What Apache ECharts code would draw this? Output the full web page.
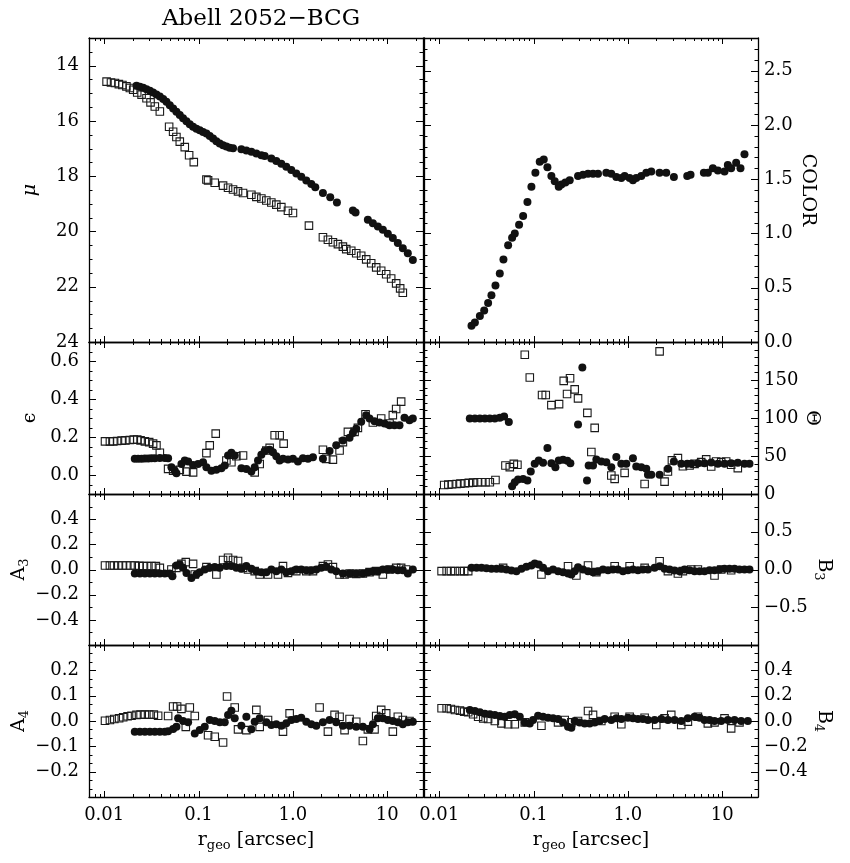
<!DOCTYPE html>
<html><head><meta charset="utf-8">
<script src="https://cdn.jsdelivr.net/npm/echarts@6/dist/echarts.min.js"></script>
<style>html,body{margin:0;padding:0;background:#fff}#c{width:850px;height:863px}</style>
</head><body><div id="c"></div><script>
// ---------- data: [r (arcsec), value] ----------
const muSq=[[0.0106,14.58],[0.0118,14.61],[0.0130,14.63],[0.0143,14.67],[0.0156,14.70],[0.0172,14.75],[0.0187,14.81],[0.0203,14.87],[0.0224,14.97],[0.0249,15.05],[0.0281,15.18],[0.0310,15.33],[0.0344,15.48],[0.0389,15.66],[0.0488,16.21],[0.0538,16.39],[0.0583,16.58],[0.0633,16.75],[0.0715,16.95],[0.0795,17.24],[0.0891,17.49],[0.1213,18.12],[0.1263,18.15],[0.1486,18.24],[0.1821,18.34],[0.2057,18.42],[0.2323,18.48],[0.2624,18.55],[0.2965,18.61],[0.3633,18.67],[0.4104,18.75],[0.4637,18.81],[0.5236,18.88],[0.5916,18.95],[0.6683,19.03],[0.7551,19.12],[0.8882,19.25],[1.003,19.33],[1.482,19.79],[2.085,20.21],[2.356,20.30],[2.661,20.39],[3.006,20.46],[3.396,20.55],[3.684,20.64],[4.162,20.70],[4.701,20.79],[5.309,20.88],[5.998,21.01],[6.775,21.15],[7.654,21.30],[8.646,21.42],[9.768,21.55],[11.03,21.70],[12.46,21.88],[13.74,22.06],[14.66,22.22]];
const muDot=[[0.0220,14.73],[0.0239,14.76],[0.0259,14.80],[0.0281,14.85],[0.0305,14.91],[0.0330,14.97],[0.0358,15.04],[0.0389,15.12],[0.0422,15.21],[0.0457,15.31],[0.0496,15.43],[0.0538,15.55],[0.0583,15.67],[0.0633,15.79],[0.0686,15.90],[0.0745,16.01],[0.0808,16.12],[0.0876,16.21],[0.0950,16.28],[0.1030,16.34],[0.1118,16.40],[0.1213,16.46],[0.1315,16.55],[0.1427,16.64],[0.1547,16.74],[0.1679,16.82],[0.1821,16.88],[0.1975,16.93],[0.2142,16.97],[0.2323,16.99],[0.2847,17.03],[0.3216,17.07],[0.3633,17.12],[0.4104,17.18],[0.4637,17.24],[0.5030,17.27],[0.5916,17.36],[0.6683,17.45],[0.7551,17.55],[0.8528,17.66],[0.9634,17.78],[1.088,17.90],[1.229,18.02],[1.389,18.16],[1.570,18.28],[1.730,18.40],[2.085,18.61],[2.493,18.76],[2.934,18.95],[4.334,19.24],[4.624,19.31],[6.246,19.58],[7.057,19.70],[7.971,19.82],[9.005,19.94],[10.17,20.08],[11.49,20.24],[12.98,20.42],[14.66,20.61],[16.56,20.79],[18.72,21.03]];
const colorDot=[[0.0220,0.15],[0.0239,0.18],[0.0270,0.24],[0.0300,0.29],[0.0330,0.36],[0.0358,0.43],[0.0395,0.52],[0.0439,0.63],[0.0480,0.76],[0.0538,0.89],[0.0593,0.96],[0.0633,1.00],[0.0703,1.08],[0.0776,1.16],[0.0862,1.29],[0.0950,1.43],[0.1047,1.56],[0.1164,1.66],[0.1284,1.68],[0.1404,1.61],[0.1547,1.53],[0.1679,1.48],[0.1851,1.43],[0.1975,1.45],[0.2177,1.47],[0.2420,1.49],[0.2965,1.53],[0.3349,1.54],[0.3784,1.55],[0.4275,1.55],[0.4829,1.55],[0.5916,1.56],[0.6683,1.55],[0.7551,1.52],[0.8528,1.51],[0.9250,1.53],[1.045,1.51],[1.133,1.49],[1.229,1.51],[1.389,1.53],[1.570,1.56],[1.773,1.57],[2.172,1.56],[2.555,1.56],[3.080,1.52],[4.264,1.53],[4.624,1.54],[6.401,1.56],[7.057,1.56],[7.971,1.60],[9.005,1.58],[10.60,1.57],[11.49,1.63],[12.46,1.60],[14.08,1.65],[15.65,1.60],[17.25,1.73]];
const epsSq=[[0.0102,0.177],[0.0115,0.177],[0.0125,0.177],[0.0137,0.179],[0.0153,0.181],[0.0168,0.182],[0.0187,0.184],[0.0206,0.186],[0.0224,0.186],[0.0243,0.182],[0.0270,0.177],[0.0300,0.173],[0.0330,0.165],[0.0358,0.156],[0.0389,0.117],[0.0476,0.032],[0.0538,0.023],[0.0633,0.027],[0.0745,0.018],[0.0876,0.014],[0.1213,0.115],[0.1315,0.156],[0.1522,0.218],[0.1975,0.076],[0.2231,0.067],[0.2520,0.099],[0.2965,0.103],[0.3941,0.014],[0.4452,0.058],[0.5236,0.129],[0.5681,0.143],[0.6418,0.209],[0.7250,0.209],[0.7993,0.165],[2.085,0.133],[2.262,0.085],[2.661,0.081],[3.131,0.129],[3.396,0.173],[3.837,0.227],[4.514,0.227],[4.896,0.248],[5.901,0.320],[7.057,0.276],[8.646,0.297],[10.60,0.271],[11.49,0.315],[12.46,0.347],[14.08,0.386]];
const epsDot=[[0.0211,0.085],[0.0229,0.085],[0.0249,0.085],[0.0270,0.087],[0.0293,0.087],[0.0317,0.088],[0.0344,0.088],[0.0389,0.090],[0.0439,0.090],[0.0476,0.088],[0.0516,0.041],[0.0560,0.023],[0.0583,0.009],[0.0659,0.058],[0.0715,0.076],[0.0776,0.071],[0.0876,0.053],[0.0989,0.058],[0.1118,0.067],[0.1213,0.041],[0.1370,0.023],[0.1547,0.028],[0.1748,0.035],[0.1897,0.050],[0.2057,0.103],[0.2231,0.117],[0.2420,0.103],[0.2847,0.035],[0.3216,0.032],[0.3633,0.018],[0.3941,0.041],[0.4275,0.076],[0.4637,0.106],[0.5030,0.126],[0.5681,0.133],[0.6162,0.120],[0.6683,0.099],[0.7250,0.076],[0.7863,0.085],[0.8882,0.081],[1.003,0.085],[1.133,0.071],[1.280,0.088],[1.447,0.085],[1.635,0.094],[2.085,0.085],[2.453,0.126],[2.886,0.156],[3.396,0.182],[3.996,0.196],[4.334,0.221],[4.701,0.244],[5.309,0.280],[5.998,0.315],[6.506,0.297],[7.349,0.283],[8.302,0.276],[9.378,0.271],[10.60,0.262],[11.97,0.262],[13.52,0.262],[15.27,0.301],[17.25,0.288],[18.72,0.297]];
const thetaSq=[[0.0113,11.9],[0.0125,12.4],[0.0137,12.8],[0.0153,13.2],[0.0168,13.7],[0.0187,14.1],[0.0206,14.6],[0.0229,15.0],[0.0255,15.5],[0.0281,15.5],[0.0310,15.5],[0.0344,15.5],[0.0395,18.5],[0.0504,37.5],[0.0560,35.3],[0.0618,39.7],[0.0675,38.4],[0.0808,183.2],[0.0913,153.2],[0.1232,130.2],[0.1348,130.2],[0.1547,117.0],[0.1866,118.3],[0.2091,148.8],[0.2268,131.6],[0.2439,152.3],[0.2733,137.7],[0.2965,125.8],[0.3723,106.8],[0.4104,55.2],[0.4452,87.0],[0.6683,24.3],[0.7250,19.9],[0.9250,27.8],[1.507,13.2],[2.172,187.6],[2.453,16.3],[2.661,29.6],[2.934,44.2],[3.396,47.2],[3.837,36.6],[4.514,37.5],[5.099,39.7],[5.998,41.9],[6.775,45.5],[7.654,36.2],[8.646,42.8],[9.768,41.9],[11.03,42.8],[12.46,38.4],[14.66,34.0]];
const thetaDot=[[0.0211,99.3],[0.0239,99.3],[0.0270,99.3],[0.0305,99.3],[0.0344,99.3],[0.0389,99.3],[0.0439,100.2],[0.0488,102.0],[0.0547,94.9],[0.0593,10.2],[0.0633,15.5],[0.0686,19.0],[0.0776,19.9],[0.0862,17.7],[0.0935,29.6],[0.1030,39.7],[0.1136,44.2],[0.1263,41.1],[0.1404,60.5],[0.1547,40.6],[0.1706,35.3],[0.1851,44.2],[0.2057,45.0],[0.2286,43.7],[0.2459,40.6],[0.2965,91.4],[0.3295,166.4],[0.3692,17.7],[0.3846,37.5],[0.4275,37.5],[0.4637,45.5],[0.5236,42.8],[0.5916,41.9],[0.6683,35.3],[0.7551,48.6],[0.8528,39.7],[0.9634,39.7],[1.133,47.2],[1.229,36.2],[1.389,35.3],[1.570,33.1],[1.635,25.2],[1.773,25.2],[2.172,25.2],[2.661,33.1],[3.080,42.8],[3.684,39.7],[4.264,39.7],[4.701,39.7],[5.530,40.6],[6.506,40.6],[7.654,41.5],[9.005,39.7],[10.60,39.7],[12.46,40.6],[14.66,41.1],[17.25,39.7],[19.49,39.7]];
const a3Sq=[[0.0102,0.032],[0.0115,0.032],[0.0127,0.032],[0.0141,0.032],[0.0156,0.032],[0.0172,0.032],[0.0190,0.032],[0.0211,0.032],[0.0235,0.029],[0.0259,0.027],[0.0285,0.027],[0.0317,0.027],[0.0353,0.027],[0.0389,0.013],[0.0516,0.000],[0.0583,0.013],[0.0659,0.045],[0.0733,0.059],[0.0876,0.045],[0.0913,-0.040],[0.1213,0.019],[0.1547,-0.040],[0.1821,0.075],[0.2057,0.093],[0.2323,0.075],[0.2624,0.067],[0.2965,0.013],[0.3349,0.000],[0.3941,-0.013],[0.4452,-0.040],[0.5455,-0.040],[0.6961,-0.040],[0.7863,0.027],[0.8882,-0.027],[1.088,-0.013],[1.389,-0.013],[1.635,-0.013],[2.085,0.027],[2.356,0.040],[2.661,0.019],[3.131,-0.040],[3.537,-0.040],[3.996,-0.032],[4.701,-0.035],[5.530,-0.032],[6.506,-0.021],[7.654,-0.013],[9.005,-0.040],[10.60,0.000],[12.46,0.013],[14.08,0.013],[15.90,0.000]];
const a3Dot=[[0.0211,-0.032],[0.0239,-0.032],[0.0270,-0.032],[0.0305,-0.032],[0.0344,-0.032],[0.0389,-0.032],[0.0439,-0.032],[0.0496,-0.032],[0.0529,-0.053],[0.0583,0.032],[0.0633,0.040],[0.0686,0.013],[0.0745,-0.027],[0.0841,-0.067],[0.0950,-0.040],[0.1030,-0.021],[0.1164,0.000],[0.1315,0.013],[0.1486,0.019],[0.1679,0.013],[0.1975,0.027],[0.2231,0.027],[0.2520,0.013],[0.2847,0.005],[0.3216,0.027],[0.3633,0.005],[0.4104,-0.013],[0.4637,-0.021],[0.5236,-0.021],[0.5916,0.000],[0.6683,-0.013],[0.7551,0.000],[0.8528,-0.021],[0.9634,-0.013],[1.088,0.000],[1.229,0.000],[1.389,-0.005],[1.570,-0.005],[1.773,0.000],[2.002,0.013],[2.262,0.021],[2.555,0.000],[2.886,-0.013],[3.396,-0.032],[3.996,-0.032],[4.701,-0.032],[5.530,-0.032],[6.246,-0.021],[7.057,-0.013],[7.971,-0.013],[9.005,0.000],[10.17,0.000],[11.49,0.000],[12.98,-0.005],[14.66,-0.005],[16.56,-0.032],[18.72,0.000]];
const b3Sq=[[0.0106,-0.022],[0.0120,-0.022],[0.0133,-0.022],[0.0147,-0.022],[0.0166,-0.022],[0.0184,-0.022],[0.0203,-0.022],[0.0476,0.022],[0.1213,-0.066],[0.2323,0.044],[0.2847,-0.079],[0.3784,0.053],[0.4637,-0.035],[0.7250,0.044],[1.045,0.044],[1.507,0.022],[2.172,0.110],[2.661,-0.022],[3.396,-0.053],[3.837,-0.022],[4.701,0.000],[5.530,0.000],[8.302,-0.079],[9.768,0.000],[12.46,-0.009]];
const b3Dot=[[0.0220,0.022],[0.0249,0.022],[0.0281,0.022],[0.0317,0.018],[0.0358,0.009],[0.0405,0.009],[0.0457,0.009],[0.0516,0.000],[0.0583,-0.013],[0.0659,-0.022],[0.0745,0.009],[0.0841,0.035],[0.0950,0.053],[0.1030,0.079],[0.1136,0.066],[0.1263,0.022],[0.1427,-0.022],[0.1612,0.000],[0.1821,-0.022],[0.2057,-0.035],[0.2323,-0.053],[0.2520,-0.066],[0.2733,-0.022],[0.2965,0.031],[0.3349,0.000],[0.3784,-0.022],[0.4275,-0.035],[0.4829,-0.022],[0.5455,0.000],[0.6162,-0.009],[0.6961,0.000],[0.7863,0.000],[0.8882,-0.022],[1.003,-0.009],[1.133,0.000],[1.280,-0.009],[1.447,0.000],[1.635,0.000],[1.922,0.022],[2.172,0.044],[2.453,0.009],[2.772,0.000],[3.131,-0.013],[3.537,-0.022],[3.996,0.000],[4.514,-0.009],[5.099,-0.022],[5.759,-0.022],[6.506,-0.022],[7.349,-0.009],[8.302,-0.009],[9.378,0.000],[10.60,0.009],[11.97,0.009],[13.52,0.009],[15.27,0.000],[17.25,0.000],[19.49,0.000]];
const a4Sq=[[0.0102,0.001],[0.0115,0.004],[0.0128,0.008],[0.0144,0.011],[0.0159,0.015],[0.0177,0.019],[0.0195,0.021],[0.0220,0.024],[0.0243,0.025],[0.0270,0.025],[0.0300,0.025],[0.0336,0.025],[0.0373,0.021],[0.0476,0.020],[0.0538,0.057],[0.0593,0.057],[0.0659,0.048],[0.0733,-0.023],[0.0808,0.053],[0.0913,0.020],[0.1263,-0.056],[0.1486,-0.062],[0.1821,-0.085],[0.2007,0.097],[0.2420,0.053],[0.2624,-0.033],[0.3216,-0.036],[0.4104,0.044],[0.4452,-0.023],[0.5455,0.004],[0.7863,-0.042],[0.9250,0.030],[1.922,0.053],[2.356,-0.042],[2.772,0.024],[3.131,0.017],[3.537,-0.036],[3.996,0.008],[4.701,-0.003],[5.530,-0.079],[6.246,-0.033],[7.349,-0.033],[7.654,0.020],[8.646,0.044],[9.768,0.030],[11.49,-0.042],[12.98,0.017],[14.66,0.004],[17.25,0.000]];
const a4Dot=[[0.0211,-0.042],[0.0239,-0.042],[0.0270,-0.042],[0.0305,-0.042],[0.0344,-0.042],[0.0389,-0.042],[0.0439,-0.042],[0.0476,-0.040],[0.0538,-0.032],[0.0583,-0.023],[0.0608,0.011],[0.0686,0.000],[0.0776,-0.005],[0.0913,-0.049],[0.1030,-0.036],[0.1164,-0.023],[0.1315,0.004],[0.1486,0.000],[0.1679,-0.005],[0.1897,-0.005],[0.2057,0.024],[0.2231,0.040],[0.2420,0.011],[0.2847,-0.019],[0.3216,0.017],[0.3633,-0.033],[0.3941,-0.003],[0.4452,0.011],[0.5236,-0.005],[0.5916,-0.016],[0.6683,-0.013],[0.7551,-0.019],[0.8528,-0.009],[0.9634,0.004],[1.088,0.008],[1.229,0.013],[1.389,-0.003],[1.570,-0.013],[1.773,-0.019],[2.085,-0.005],[2.453,0.004],[2.886,-0.005],[3.396,-0.019],[3.996,-0.019],[4.701,-0.023],[5.530,-0.023],[6.506,-0.033],[7.057,-0.013],[7.971,0.011],[9.005,0.011],[10.17,0.004],[11.49,0.000],[12.98,-0.005],[14.66,-0.013],[16.56,-0.005],[18.72,-0.003]];
const b4Sq=[[0.0106,0.101],[0.0120,0.101],[0.0133,0.095],[0.0147,0.087],[0.0166,0.082],[0.0184,0.074],[0.0203,0.069],[0.0229,0.053],[0.0259,0.034],[0.0293,0.021],[0.0330,0.016],[0.0389,0.000],[0.0457,-0.019],[0.0538,-0.026],[0.0633,-0.026],[0.0808,-0.011],[0.1213,-0.037],[0.1821,-0.011],[0.2142,0.008],[0.2520,-0.011],[0.2965,0.000],[0.3784,0.079],[0.4275,0.048],[0.5236,0.000],[0.7250,0.034],[0.8528,-0.026],[1.045,0.034],[1.507,0.026],[2.002,-0.032],[2.453,0.021],[2.886,0.048],[3.684,-0.032],[4.334,-0.005],[5.530,0.034],[7.057,-0.019],[8.302,-0.011],[10.60,0.021],[12.46,-0.058],[15.27,-0.011]];
const b4Dot=[[0.0211,0.087],[0.0239,0.079],[0.0270,0.069],[0.0305,0.058],[0.0344,0.053],[0.0389,0.048],[0.0439,0.040],[0.0496,0.034],[0.0560,0.048],[0.0633,0.053],[0.0715,0.034],[0.0808,-0.011],[0.0913,-0.019],[0.0989,0.008],[0.1118,0.042],[0.1263,0.034],[0.1427,0.026],[0.1612,0.021],[0.1821,0.016],[0.2057,-0.011],[0.2323,-0.045],[0.2520,-0.053],[0.2733,0.000],[0.3088,-0.011],[0.3488,-0.019],[0.3941,-0.019],[0.4452,-0.011],[0.5030,0.000],[0.5681,0.016],[0.6683,0.008],[0.7551,0.021],[0.8528,0.016],[1.003,0.026],[1.133,0.021],[1.280,0.016],[1.447,0.016],[1.635,0.008],[1.922,0.008],[2.262,0.016],[2.661,0.008],[3.131,0.008],[3.684,0.000],[4.334,0.021],[5.099,0.034],[5.759,0.026],[6.506,0.008],[7.349,0.008],[8.302,0.000],[9.768,0.000],[11.49,0.008],[13.52,0.008],[15.90,0.000],[18.72,0.000]];

// ---------- axes: ticks & labels ----------
const X_MIN=0.0069, X_MAX=24;
const xMajor=[0.01,0.1,1,10];
const xMinor=[0.008,0.009,0.02,0.03,0.04,0.05,0.06,0.07,0.08,0.09,0.2,0.3,0.4,0.5,0.6,0.7,0.8,0.9,2,3,4,5,6,7,8,9,20];
const muTicks=[14,16,18,20,22,24], colorTicks=[0,0.5,1,1.5,2,2.5], epsTicks=[0,0.2,0.4,0.6],
      thetaTicks=[0,50,100,150], a3Ticks=[-0.4,-0.2,0,0.2,0.4], b3Ticks=[-0.5,0,0.5],
      a4Ticks=[-0.2,-0.1,0,0.1,0.2], b4Ticks=[-0.4,-0.2,0,0.2,0.4];

const FONT='DejaVu Serif';
const rich={m:{fontFamily:FONT,fontSize:19,color:'#000',lineHeight:24},
            i:{fontFamily:FONT,fontSize:19,color:'#000',lineHeight:24,fontStyle:'italic'},
            s:{fontFamily:FONT,fontSize:13,color:'#000',verticalAlign:'bottom',lineHeight:24}};

const panels=[
 {row:0,col:0,name:'{i|μ}',min:13,max:24,inv:true,major:[13,14,16,18,20,22,24],minorStep:0.5,labels:muTicks,dec:0,sq:muSq,dot:muDot},
 {row:0,col:1,name:'{m|COLOR}',min:0,max:2.8,major:colorTicks,minorStep:0.1,labels:colorTicks,dec:1,dot:colorDot},
 {row:1,col:0,name:'{m|ϵ}',min:-0.1,max:0.7,major:epsTicks,minorStep:0.05,labels:epsTicks,dec:1,sq:epsSq,dot:epsDot},
 {row:1,col:1,name:'{m|Θ}',min:0,max:200,major:[0,50,100,150,200],minorStep:10,labels:thetaTicks,dec:0,sq:thetaSq,dot:thetaDot},
 {row:2,col:0,name:'{m|A}{s|3}',min:-0.6,max:0.6,major:a3Ticks,minorStep:0.1,labels:a3Ticks,dec:1,sq:a3Sq,dot:a3Dot},
 {row:2,col:1,name:'{m|B}{s|3}',min:-1,max:1,major:b3Ticks,minorStep:0.5/3,labels:b3Ticks,dec:1,sq:b3Sq,dot:b3Dot},
 {row:3,col:0,name:'{m|A}{s|4}',min:-0.3,max:0.3,major:a4Ticks,minorStep:0.1/3,labels:a4Ticks,dec:1,sq:a4Sq,dot:a4Dot},
 {row:3,col:1,name:'{m|B}{s|4}',min:-0.6,max:0.6,major:b4Ticks,minorStep:0.2/3,labels:b4Ticks,dec:1,sq:b4Sq,dot:b4Dot}
];
const rowTop=[38,342,494,645], rowH=[304,152,151,152], colLeft=[89,424], colW=334;

function fmtY(dec){return v=>{const s=dec?(+v).toFixed(dec):String(Math.round(v));return s.replace('-','\u2212');};}
function fmtX(v){if(v>=9.99)return String(Math.round(v));if(v>=0.999)return v.toFixed(1);return String(+v.toPrecision(1));}
function minorList(p){const out=[];const n=Math.round((p.max-p.min)/p.minorStep);
  for(let k=0;k<=n;k++){const v=+(p.min+k*p.minorStep).toFixed(6);if(!p.major.some(m=>Math.abs(m-v)<1e-6))out.push(v);}return out;}

const grid=[],xAxis=[],yAxis=[],series=[];
const lineStyle={color:'#000',width:1.3};
panels.forEach((p,i)=>{
  grid.push({left:colLeft[p.col],top:rowTop[p.row],width:colW,height:rowH[p.row]});
  const bottomRow=p.row===3;
  xAxis.push({gridIndex:i,type:'log',logBase:10,min:X_MIN,max:X_MAX,position:'bottom',
    axisLine:{show:true,onZero:false,lineStyle},axisTick:{show:false},splitLine:{show:false},minorTick:{show:false},
    axisLabel:{show:bottomRow,formatter:fmtX,showMinLabel:false,showMaxLabel:false,margin:9,fontFamily:FONT,fontSize:18,color:'#000'},
    name:bottomRow?'{m|r}{s|geo}{m| [arcsec]}':'',nameLocation:'middle',nameGap:31,nameTextStyle:{rich}});
  xAxis.push({gridIndex:i,type:'log',logBase:10,min:X_MIN,max:X_MAX,position:'top',
    axisLine:{show:true,onZero:false,lineStyle},axisTick:{show:false},axisLabel:{show:false},splitLine:{show:false}});
  const lab={fontFamily:FONT,fontSize:18,color:'#000',formatter:fmtY(p.dec),customValues:p.labels};
  yAxis.push({gridIndex:i,type:'value',min:p.min,max:p.max,inverse:!!p.inv,position:'left',
    axisLine:{show:true,onZero:false,lineStyle},axisTick:{show:false},splitLine:{show:false},
    axisLabel:Object.assign({show:p.col===0,margin:10},lab),
    name:p.col===0?p.name:'',nameLocation:'middle',nameGap:47,nameTextStyle:{rich}});
  yAxis.push({gridIndex:i,type:'value',min:p.min,max:p.max,inverse:!!p.inv,position:'right',
    axisLine:{show:true,onZero:false,lineStyle},axisTick:{show:false},splitLine:{show:false},
    axisLabel:Object.assign({show:p.col===1,margin:6},lab),
    name:p.col===1?p.name:'',nameLocation:'middle',nameGap:38,nameRotate:-90,nameTextStyle:{rich}});
  // tick marks drawn inward on all four sides
  const td=[];
  xMajor.forEach(v=>td.push([v,p.min,0,6]));
  xMinor.forEach(v=>td.push([v,p.min,0,3]));
  p.major.forEach(v=>td.push([X_MIN,v,1,7]));
  minorList(p).forEach(v=>td.push([X_MIN,v,1,3.5]));
  series.push({type:'custom',xAxisIndex:2*i,yAxisIndex:2*i,silent:true,clip:false,z:5,
    dimensions:['x','y','k','len'],encode:{x:0,y:1},data:td,
    renderItem:(params,api)=>{
      const cs=params.coordSys;const k=api.value(2),len=api.value(3);
      const pt=api.coord([api.value(0),api.value(1)]);
      const st={stroke:'#000',lineWidth:1};
      if(k===0){const x=Math.round(pt[0])+0.5;const yb=cs.y+cs.height,yt=cs.y;
        return {type:'group',children:[{type:'line',shape:{x1:x,y1:yb,x2:x,y2:yb-len},style:st},{type:'line',shape:{x1:x,y1:yt,x2:x,y2:yt+len},style:st}]};}
      const y=Math.round(pt[1])+0.5;const xl=cs.x,xr=cs.x+cs.width;
      return {type:'group',children:[{type:'line',shape:{x1:xl,y1:y,x2:xl+len,y2:y},style:st},{type:'line',shape:{x1:xr,y1:y,x2:xr-len,y2:y},style:st}]};
    }});
  if(p.sq) series.push({type:'scatter',xAxisIndex:2*i,yAxisIndex:2*i,data:p.sq,symbol:'rect',symbolSize:7.5,
    itemStyle:{color:'rgba(0,0,0,0)',borderColor:'#1a1a1a',borderWidth:1.1,opacity:1},silent:true,z:2});
  series.push({type:'scatter',xAxisIndex:2*i,yAxisIndex:2*i,data:p.dot,symbol:'circle',symbolSize:8,
    itemStyle:{color:'#111',opacity:1},silent:true,z:3});
});

const chart=echarts.init(document.getElementById('c'),null,{renderer:'canvas'});
chart.setOption({animation:false,backgroundColor:'#fff',
  title:{text:'Abell 2052\u2212BCG',left:256,top:3,textAlign:'center',
    textStyle:{fontFamily:FONT,fontSize:23,fontWeight:'normal',color:'#000'}},
  grid,xAxis,yAxis,series});
</script></body></html>
